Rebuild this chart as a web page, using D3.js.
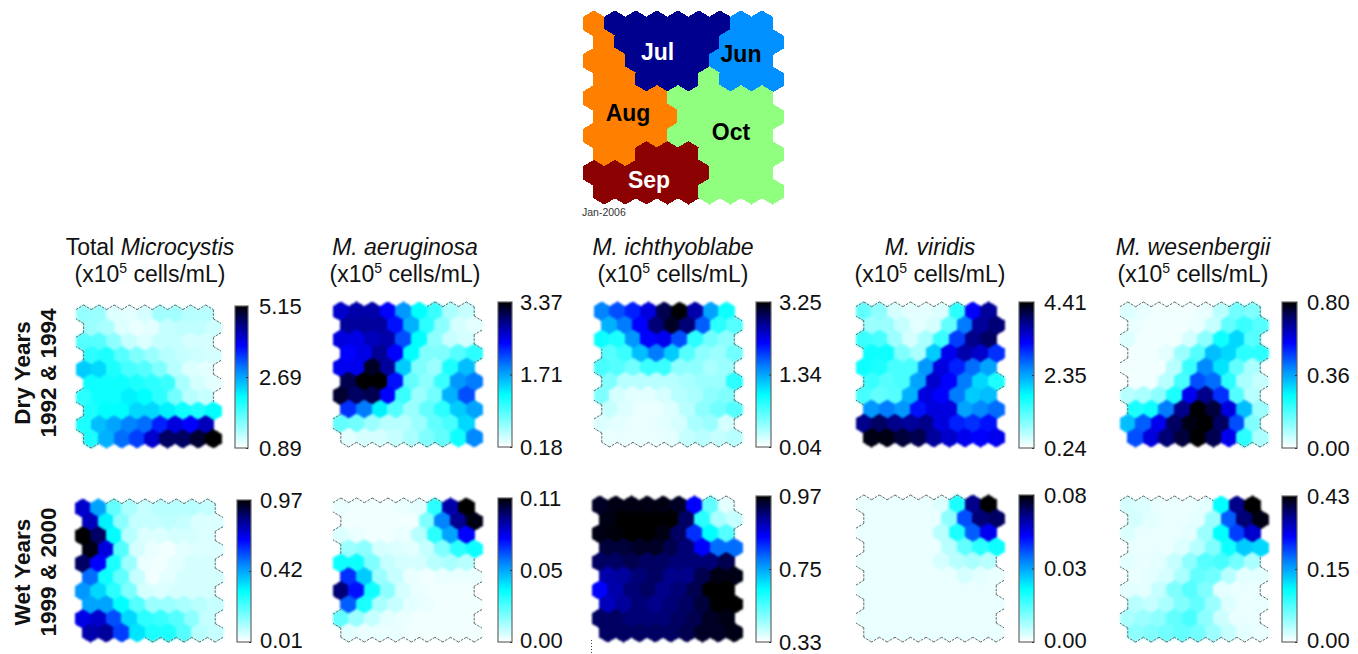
<!DOCTYPE html>
<html>
<head>
<meta charset="utf-8">
<script src="https://cdn.jsdelivr.net/npm/d3@7"></script>
<style>
  html, body { margin: 0; padding: 0; background: #fff; }
  svg { display: block; }
  text { font-family: "Liberation Sans", Arial, sans-serif; fill: #111; }
</style>
</head>
<body>
<div id="chart"></div>
<script>
// month map at the top, one letter per cell
const monthNames = { J: "Jun", L: "Jul", A: "Aug", S: "Sep", O: "Oct" };
const monthColors = { J: "#0090ff", L: "#00008f", A: "#ff8000", S: "#8b0000", O: "#90ff80" };
const monthCells = [
  "ALLLLLLJJ",
  "ALLLLLJJJ",
  "AALLLLJJJ",
  "AALLLOJJJ",
  "AAAAOOOOO",
  "AAAAOOOOO",
  "AAAAOOOOO",
  "AASSSOOOO",
  "SSSSSSOOO",
  "SSSSSOOOO"
];

// cells are read as a position on the panel's colour bar, 0 = bottom, 100 = top
const totalDry = [
  [15,14,5,4,6,13,13,10,10],
  [14,12,5,3,4,8,9,9,7],
  [24,24,16,8,5,8,8,6,6],
  [30,32,24,18,14,10,8,7,6],
  [44,42,32,26,24,18,10,5,4],
  [34,34,34,32,30,28,12,6,4],
  [30,34,34,38,36,30,20,10,8],
  [32,36,36,42,42,38,34,32,36],
  [32,46,50,55,58,68,76,72,80],
  [32,48,58,64,78,90,90,95,100]
];
const totalWet = [
  [78,50,22,12,8,10,10,10,8],
  [80,38,16,8,8,9,8,5,5],
  [100,90,36,10,5,5,6,6,5],
  [98,76,24,6,3,2,4,5,5],
  [90,72,32,14,3,2,4,6,6],
  [58,34,22,8,2,4,6,6,6],
  [52,42,30,18,6,5,6,6,6],
  [50,50,36,24,14,14,12,10,8],
  [75,78,62,42,30,28,24,16,8],
  [82,84,64,40,32,32,24,10,8]
];
const aeruginosaDry = [
  [78,82,82,72,52,36,28,12,8],
  [84,84,84,70,48,30,16,6,4],
  [76,75,80,82,62,36,16,8,6],
  [72,75,85,72,36,18,18,24,30],
  [74,74,96,84,44,18,14,32,46],
  [92,100,100,70,22,16,28,52,56],
  [95,90,92,72,28,14,20,48,62],
  [66,56,38,24,14,22,30,44,50],
  [22,20,14,10,10,14,22,26,42],
  [4,6,6,8,12,18,22,34,54]
];
const aeruginosaWet = [
  [3,2,2,2,3,4,30,82,100],
  [2,2,2,2,2,18,55,85,98],
  [5,3,2,2,3,10,30,50,72],
  [14,16,6,5,4,8,18,30,34],
  [34,34,18,8,6,6,10,12,10],
  [66,44,14,8,3,2,3,3,3],
  [88,70,34,16,6,3,2,2,2],
  [60,32,12,8,4,3,2,2,2],
  [22,14,8,4,3,2,2,2,2],
  [4,3,3,3,2,2,2,2,2]
];
const ichthyoDry = [
  [55,62,68,76,92,100,82,50,34],
  [48,56,72,88,96,88,60,30,24],
  [34,32,52,72,74,62,30,20,16],
  [24,28,46,56,44,24,16,14,20],
  [26,24,20,28,28,16,16,12,14],
  [18,10,10,10,10,12,14,14,30],
  [18,6,4,4,6,10,12,16,18],
  [8,5,3,3,5,10,16,20,24],
  [5,4,3,3,4,6,12,14,6],
  [3,3,3,3,4,8,10,8,10]
];
const ichthyoWet = [
  [96,98,98,98,98,96,72,22,4],
  [98,100,100,100,100,90,30,12,8],
  [98,99,100,100,98,90,66,36,24],
  [94,94,96,96,92,88,72,58,58],
  [90,90,92,90,90,88,88,88,92],
  [82,84,88,90,86,86,92,98,98],
  [72,82,88,90,86,88,92,100,100],
  [80,84,88,86,88,90,94,100,100],
  [90,90,88,88,88,90,92,96,98],
  [90,90,90,90,90,92,96,96,98]
];
const viridisDry = [
  [22,16,6,4,4,5,30,72,84],
  [14,14,8,4,6,22,56,84,88],
  [28,26,14,6,12,28,64,86,90],
  [34,34,18,12,44,74,82,78,66],
  [34,32,26,26,52,76,68,58,50],
  [28,24,26,50,78,72,56,42,32],
  [26,22,24,48,76,72,56,44,46],
  [52,56,52,70,76,76,50,54,58],
  [86,90,86,84,86,76,68,66,70],
  [98,98,94,92,84,78,74,72,74]
];
const viridisWet = [
  [3,3,3,3,3,5,32,86,100],
  [3,3,3,3,3,16,62,88,90],
  [3,3,3,3,3,10,32,60,74],
  [3,3,3,3,3,10,22,30,34],
  [3,3,3,3,3,6,10,12,10],
  [3,3,3,3,3,3,6,4,3],
  [3,3,3,3,3,3,3,3,3],
  [3,3,3,3,3,3,3,3,3],
  [3,3,3,3,3,3,3,3,3],
  [3,3,3,3,3,3,3,3,3]
];
const wesenbergiiDry = [
  [5,3,2,2,2,3,10,20,18],
  [3,2,2,2,3,8,22,28,24],
  [5,2,2,2,6,16,34,42,24],
  [2,2,4,14,24,46,42,30,30],
  [2,2,2,10,28,54,40,22,12],
  [2,2,10,26,62,58,30,12,8],
  [10,12,16,32,74,86,66,24,10],
  [32,34,56,86,100,94,76,46,14],
  [46,60,74,90,98,100,90,62,18],
  [62,76,88,94,100,92,74,30,12]
];
const wesenbergiiWet = [
  [6,5,3,3,3,4,36,86,100],
  [6,4,3,3,4,14,60,88,98],
  [5,3,3,3,4,14,36,64,78],
  [3,3,3,5,10,18,34,44,42],
  [4,3,4,8,16,24,26,20,12],
  [3,4,6,12,22,20,10,4,4],
  [4,4,8,18,24,18,4,3,3],
  [10,8,12,18,22,14,5,3,3],
  [12,14,16,22,26,16,7,3,3],
  [16,18,20,22,20,14,8,4,3]
];

// colour bar tick labels, [bottom, middle, top]
const totalDryTicks = ["0.89", "2.69", "5.15"];
const totalWetTicks = ["0.01", "0.42", "0.97"];
const aeruginosaDryTicks = ["0.18", "1.71", "3.37"];
const aeruginosaWetTicks = ["0.00", "0.05", "0.11"];
const ichthyoDryTicks = ["0.04", "1.34", "3.25"];
const ichthyoWetTicks = ["0.33", "0.75", "0.97"];
const viridisDryTicks = ["0.24", "2.35", "4.41"];
const viridisWetTicks = ["0.00", "0.03", "0.08"];
const wesenbergiiDryTicks = ["0.00", "0.36", "0.80"];
const wesenbergiiWetTicks = ["0.00", "0.15", "0.43"];

const width = 1358, height = 654;
const svg = d3.select("#chart").append("svg").attr("width", width).attr("height", height);
const defs = svg.append("defs");

// white > cyan > blue > black, as on the bars
const colorStops = [[0, "#ffffff"], [36, "#00ffff"], [55, "#0084ff"], [72, "#0000ff"], [86, "#00008a"], [100, "#000000"]];
const color = d3.scaleLinear().domain(colorStops.map(d => d[0])).range(colorStops.map(d => d[1])).clamp(true);

defs.append("filter").attr("id", "soft")
  .attr("color-interpolation-filters", "sRGB")
  .append("feGaussianBlur").attr("stdDeviation", 0.7);
defs.append("filter").attr("id", "softer")
  .attr("color-interpolation-filters", "sRGB")
  .append("feGaussianBlur").attr("stdDeviation", 1);
const grad = defs.append("linearGradient").attr("id", "barGrad").attr("x1", 0).attr("x2", 0).attr("y1", 1).attr("y2", 0);
grad.selectAll("stop").data(colorStops).join("stop")
  .attr("offset", d => d[0] + "%")
  .attr("stop-color", d => d[1]);

// hexagon corners in grid units, going round from the top
const corners = [[0, -0.5], [0.5, -0.25], [0.5, 0.25], [0, 0.5], [-0.5, 0.25], [-0.5, -0.25]];
const hexLine = d3.line();

function gridScales(box) {
  return {
    x: d3.scaleLinear().domain([0, 9.5]).range([box.x0, box.x1]),
    y: d3.scaleLinear().domain([0, 7.75]).range([box.y0, box.y1])
  };
}
function cellCentre(r, c) {
  return [c + 0.5 + (r % 2 ? 0.5 : 0), r * 0.75 + 0.5];
}
function hexPoints(s, r, c) {
  const m = cellCentre(r, c);
  return corners.map(k => [s.x(m[0] + k[0]), s.y(m[1] + k[1])]);
}
// neighbour across each edge (edge i joins corner i to corner i+1)
function neighbour(r, c, i) {
  const odd = r % 2 ? 1 : 0;
  if (i == 0) return [r - 1, c + odd];
  if (i == 1) return [r, c + 1];
  if (i == 2) return [r + 1, c + odd];
  if (i == 3) return [r + 1, c + odd - 1];
  if (i == 4) return [r, c - 1];
  return [r - 1, c + odd - 1];
}

function drawMap(box, data) {
  const s = gridScales(box);
  const cells = [];
  data.forEach((row, r) => row.forEach((v, c) => cells.push({ r, c, v })));
  const g = svg.append("g");
  g.append("g").attr("filter", "url(#softer)")
    .selectAll("path").data(cells).join("path")
    .attr("d", d => hexLine(hexPoints(s, d.r, d.c)) + "Z")
    .attr("fill", d => color(d.v))
    .attr("stroke", d => color(d.v))
    .attr("stroke-width", 1)
    .attr("shape-rendering", "crispEdges");

  // rim of the map only shows next to pale cells
  const edges = [];
  cells.filter(d => d.v < 34).forEach(d => {
    const p = hexPoints(s, d.r, d.c);
    d3.range(6).forEach(i => {
      const n = neighbour(d.r, d.c, i);
      if (n[0] >= 0 && n[0] < 10 && n[1] >= 0 && n[1] < 9) return;
      if (i == 4 && d.r % 2 == 0) return; // cropped in the original
      if (i == 1 && d.r % 2 == 1) return;
      edges.push([p[i], p[(i + 1) % 6]]);
    });
  });
  g.append("g").selectAll("path").data(edges).join("path")
    .attr("d", hexLine)
    .attr("fill", "none")
    .attr("stroke", "#666")
    .attr("stroke-width", 1)
    .attr("stroke-dasharray", "2.5 1.2");
}

function drawBar(bar, labels) {
  const h = bar.y1 - bar.y0;
  const pos = d3.scalePoint().domain(labels).range([bar.y1, bar.y0]);
  svg.append("rect")
    .attr("x", bar.x0).attr("y", bar.y0)
    .attr("width", bar.x1 - bar.x0).attr("height", h)
    .attr("fill", "url(#barGrad)")
    .attr("stroke", "#666")
    .attr("stroke-width", 1.2);
  const axis = d3.axisRight(pos).tickSizeInner(-2).tickSizeOuter(0).tickPadding(bar.pad);
  const g = svg.append("g").attr("transform", `translate(${bar.x1},0)`).call(axis);
  g.select(".domain").remove();
  g.selectAll("line").attr("stroke", "#333");
  g.selectAll("text").style("font-size", "22px").style("font-family", '"Liberation Sans", Arial, sans-serif').attr("fill", "#111");
  // lower labels sit a touch above their ticks on the wet row
  if (bar.lift) g.selectAll("text").filter((d, i) => i < bar.lift.length).attr("y", (d, i) => -bar.lift[i]);
}

// map boxes and bars, one entry per panel
const panels = [
  { data: totalDry, ticks: totalDryTicks, box: { x0: 76, x1: 221, y0: 305, y1: 448 }, bar: { x0: 235, x1: 248, y0: 306, y1: 448, pad: 11 } },
  { data: totalWet, ticks: totalWetTicks, box: { x0: 75, x1: 223, y0: 499, y1: 642 }, bar: { x0: 237, x1: 251, y0: 500, y1: 642, pad: 9, lift: [2, 2] } },
  { data: aeruginosaDry, ticks: aeruginosaDryTicks, box: { x0: 333, x1: 482, y0: 302, y1: 447 }, bar: { x0: 498, x1: 512, y0: 302, y1: 447, pad: 8 } },
  { data: aeruginosaWet, ticks: aeruginosaWetTicks, box: { x0: 333, x1: 482, y0: 498, y1: 642 }, bar: { x0: 498, x1: 512, y0: 498, y1: 642, pad: 8, lift: [2] } },
  { data: ichthyoDry, ticks: ichthyoDryTicks, box: { x0: 594, x1: 742, y0: 302, y1: 447 }, bar: { x0: 756, x1: 771, y0: 302, y1: 447, pad: 8 } },
  { data: ichthyoWet, ticks: ichthyoWetTicks, box: { x0: 592, x1: 742, y0: 496, y1: 642 }, bar: { x0: 756, x1: 771, y0: 496, y1: 642, pad: 8 } },
  { data: viridisDry, ticks: viridisDryTicks, box: { x0: 856, x1: 1004, y0: 302, y1: 447 }, bar: { x0: 1019, x1: 1034, y0: 302, y1: 448, pad: 10 } },
  { data: viridisWet, ticks: viridisWetTicks, box: { x0: 856, x1: 1004, y0: 495, y1: 642 }, bar: { x0: 1019, x1: 1034, y0: 495, y1: 642, pad: 10, lift: [2] } },
  { data: wesenbergiiDry, ticks: wesenbergiiDryTicks, box: { x0: 1120, x1: 1268, y0: 302, y1: 447 }, bar: { x0: 1282, x1: 1297, y0: 302, y1: 448, pad: 10 } },
  { data: wesenbergiiWet, ticks: wesenbergiiWetTicks, box: { x0: 1120, x1: 1268, y0: 496, y1: 642 }, bar: { x0: 1282, x1: 1297, y0: 496, y1: 642, pad: 10, lift: [2] } }
];
panels.forEach(p => {
  drawMap(p.box, p.data);
  drawBar(p.bar, p.ticks);
});

// panel titles
const titles = [
  { cx: 150, pre: "Total ", name: "Microcystis" },
  { cx: 405, pre: "", name: "M. aeruginosa" },
  { cx: 673, pre: "", name: "M. ichthyoblabe" },
  { cx: 930, pre: "", name: "M. viridis" },
  { cx: 1193, pre: "", name: "M. wesenbergii" }
];
titles.forEach(t => {
  const a = svg.append("text").attr("x", t.cx).attr("y", 255)
    .attr("text-anchor", "middle").style("font-size", "23px");
  a.append("tspan").text(t.pre);
  a.append("tspan").attr("font-style", "italic").text(t.name);
  const b = svg.append("text").attr("x", t.cx).attr("y", 282)
    .attr("text-anchor", "middle").style("font-size", "23px");
  b.append("tspan").text("(x10");
  b.append("tspan").attr("dy", -9).style("font-size", "14px").text("5");
  b.append("tspan").attr("dy", 9).text(" cells/mL)");
});

// row labels
const rowLabels = [
  { cy: 373, lines: ["Dry Years", "1992 & 1994"] },
  { cy: 572, lines: ["Wet Years", "1999 & 2000"] }
];
rowLabels.forEach(l => {
  l.lines.forEach((txt, i) => {
    svg.append("text")
      .attr("transform", `translate(${i ? 56 : 30},${l.cy}) rotate(-90)`)
      .attr("text-anchor", "middle")
      .attr("font-weight", "bold")
      .style("font-size", "22.5px")
      .text(txt);
  });
});

// month map
const topBox = { x0: 583.3, x1: 783, y0: 11, y1: 204 };
const topScale = gridScales(topBox);
const topCells = [];
monthCells.forEach((row, r) => row.split("").forEach((m, c) => topCells.push({ r, c, m })));
svg.append("g").attr("filter", "url(#soft)")
  .selectAll("path").data(topCells).join("path")
  .attr("d", d => hexLine(hexPoints(topScale, d.r, d.c)) + "Z")
  .attr("fill", d => monthColors[d.m])
  .attr("stroke", d => monthColors[d.m])
  .attr("stroke-width", 1)
  .attr("shape-rendering", "crispEdges");

const monthLabels = [
  { m: "L", x: 657.5, y: 60, fill: "#fff" },
  { m: "J", x: 741, y: 62, fill: "#000" },
  { m: "A", x: 628, y: 121, fill: "#000" },
  { m: "O", x: 731, y: 140, fill: "#000" },
  { m: "S", x: 649, y: 188, fill: "#fff" }
];
svg.selectAll(".month").data(monthLabels).join("text")
  .attr("class", "month")
  .attr("x", d => d.x).attr("y", d => d.y)
  .attr("text-anchor", "middle")
  .attr("font-weight", "bold")
  .style("font-size", "23px")
  .style("fill", d => d.fill)
  .text(d => monthNames[d.m]);

svg.append("text").attr("x", 582).attr("y", 216)
  .style("font-size", "10.5px").style("fill", "#333").text("Jan-2006");

// stray dotted scan line under the ichthyoblabe wet map
svg.append("line")
  .attr("x1", 591.5).attr("x2", 591.5).attr("y1", 640).attr("y2", 654)
  .attr("stroke", "#444").attr("stroke-dasharray", "1 2");
</script>
</body>
</html>
